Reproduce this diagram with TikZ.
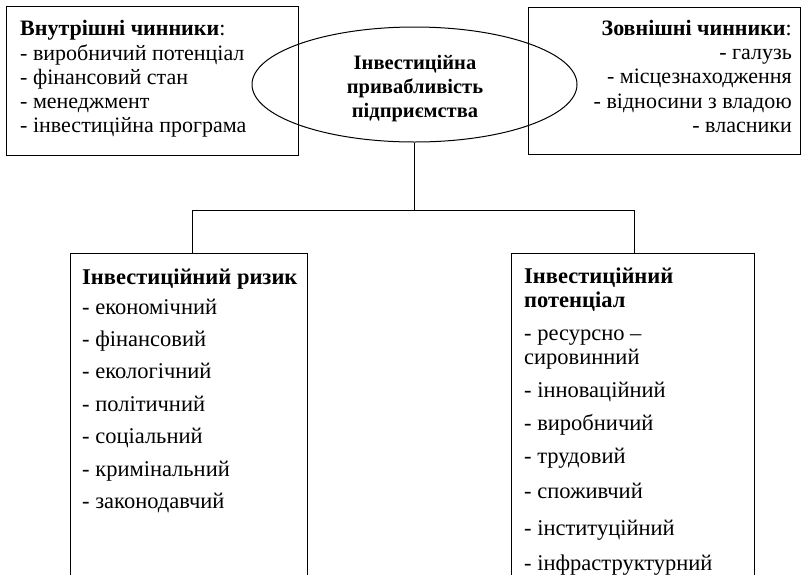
\documentclass[tikz,border=0pt]{standalone}
\usepackage{fontspec}
\setmainfont{Liberation Serif}
\usetikzlibrary{shapes.geometric,positioning}

\begin{document}
\begin{tikzpicture}[x=1pt,y=-1pt,
    frame/.style={draw, line width=1pt, inner sep=0, rectangle},
    toplist/.style={inner sep=0, font=\fontsize{22}{24.2}\selectfont},
    botlist/.style={inner sep=0, align=left, font=\fontsize{22.5}{24}\selectfont}]
  \path[use as bounding box] (0,0) rectangle (801,574);
  \clip (0,0) rectangle (801,574);
  % factors
  \node[frame, anchor=north west, minimum width=292, minimum height=149] (innerbox) at (6,6) {};
  \node[toplist, anchor=north west, align=left] (innertext) at (20,20.5)
    {\textbf{Внутрішні чинники}:\\- виробничий потенціал\\- фінансовий стан\\- менеджмент\\- інвестиційна програма};
  \node[frame, anchor=north west, minimum width=272, minimum height=147] (outerbox) at (528,7) {};
  \node[toplist, anchor=north east, align=right] (outertext) at (792,20)
    {\textbf{Зовнішні чинники}:\\- галузь\\- місцезнаходження\\- відносини з владою\\- власники};
  % attractiveness
  \node[draw, ellipse, line width=1pt, minimum width=325, minimum height=115, inner sep=0] (attr) at (414.5,84.5) {};
  \node[inner sep=0, anchor=north, align=center, font=\bfseries\fontsize{20.5}{24}\selectfont] (attrtext) at (415,55)
    {Інвестиційна\\привабливість\\підприємства};
  % risk and potential
  \node[frame, anchor=north west, minimum width=237, minimum height=340] (riskbox) at (70,253) {};
  \node[botlist, anchor=north west] (risktext) at (82,269)
    {\textbf{Інвестиційний ризик}\\[5.3pt]- економічний\\[8.4pt]- фінансовий\\[8.4pt]- екологічний\\[8.4pt]- політичний\\[8.4pt]- соціальний\\[8.4pt]- кримінальний\\[8.4pt]- законодавчий};
  \node[frame, anchor=north west, minimum width=243, minimum height=340] (potbox) at (511,253) {};
  \node[botlist, anchor=north west] (pottext) at (524,267.7)
    {\textbf{Інвестиційний}\\\textbf{потенціал}\\[9pt]- ресурсно –\\сировинний\\[9pt]- інноваційний\\[9pt]- виробничий\\[9pt]- трудовий\\[11.3pt]- споживчий\\[12.5pt]- інституційний\\[11.5pt]- інфраструктурний};
  \draw[line width=1pt] (attr.south) -- ++(0,68) coordinate (fork);
  \draw[line width=1pt] ([xshift=3]riskbox.north) |- (fork) -| ([xshift=1.5]potbox.north);
\end{tikzpicture}
\end{document}
